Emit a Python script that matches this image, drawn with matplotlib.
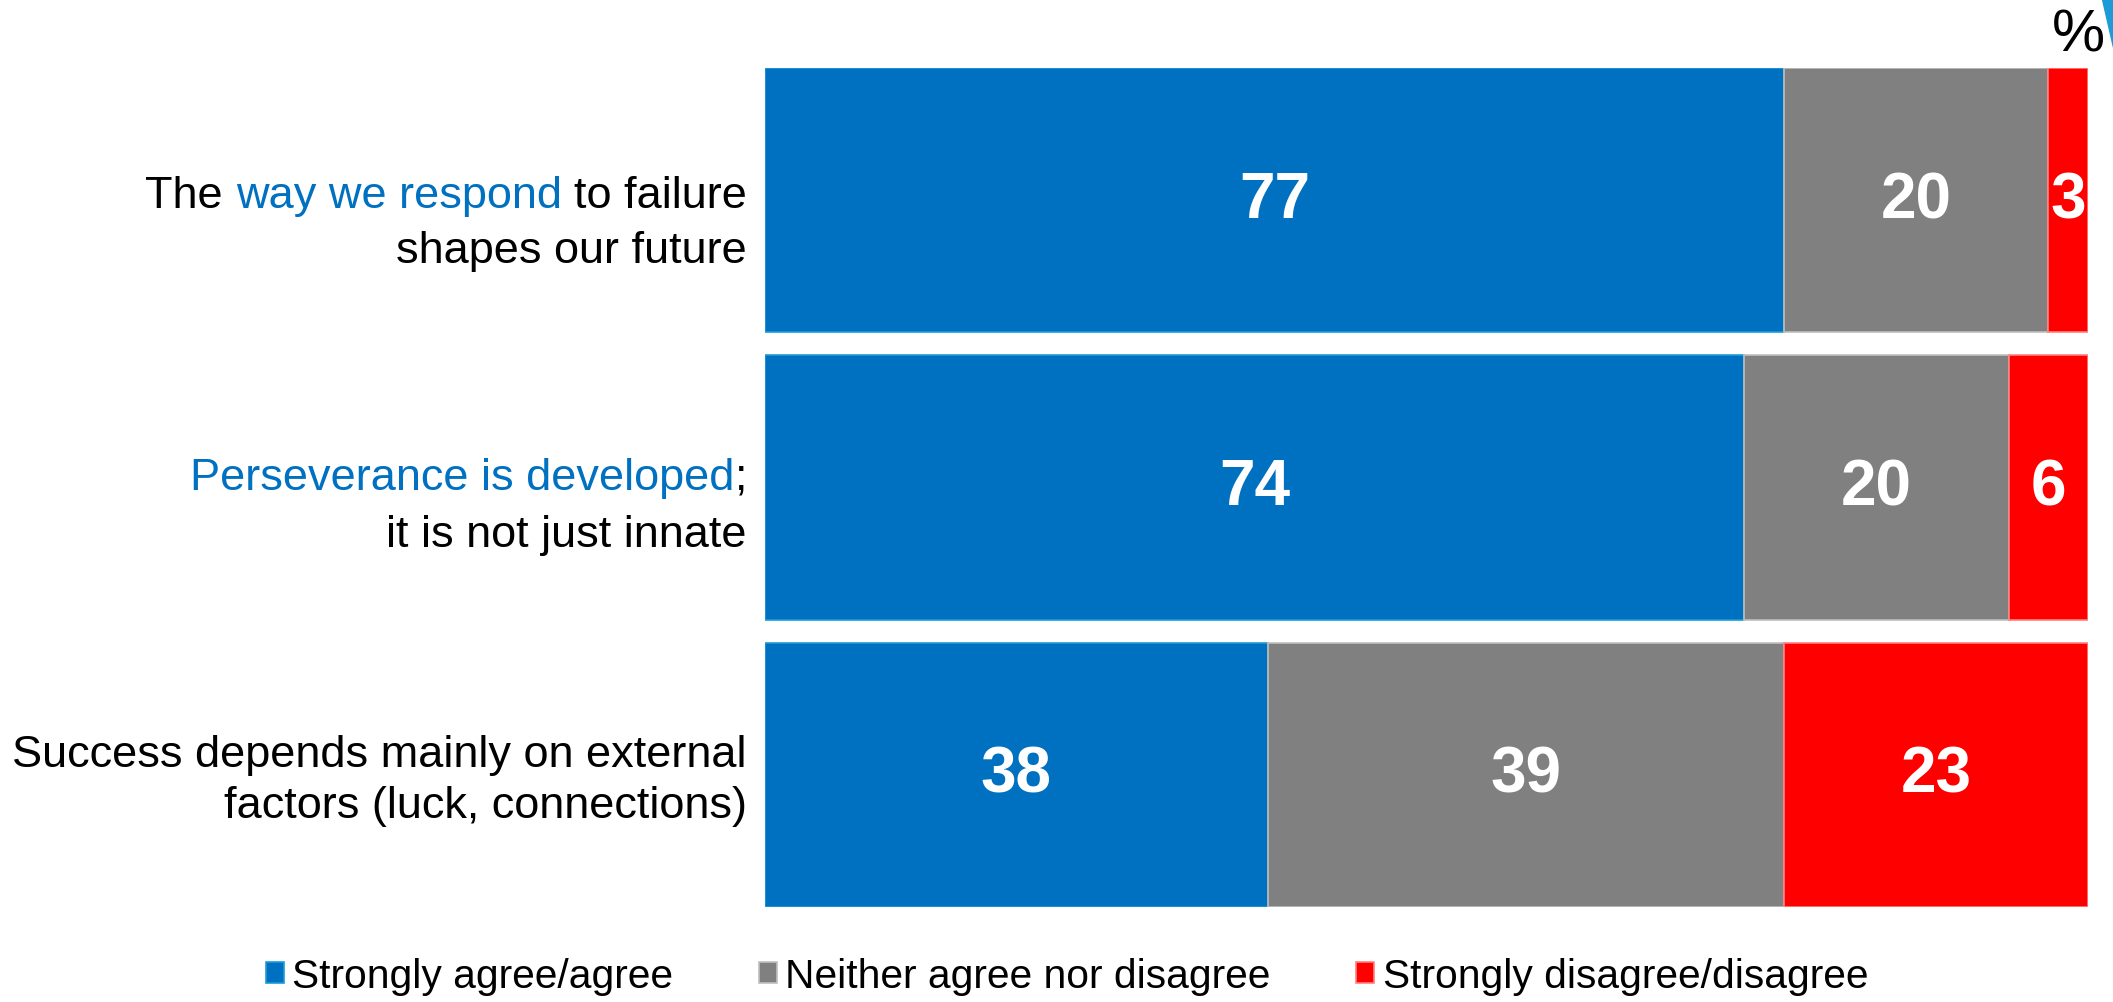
import matplotlib
matplotlib.use("Agg")
import matplotlib.pyplot as plt
from matplotlib.transforms import IdentityTransform
from matplotlib.patches import Polygon

# data
statements = [
    ["The way we respond to failure", "shapes our future"],
    ["Perseverance is developed;", "it is not just innate"],
    ["Success depends mainly on external", "factors (luck, connections)"],
]
highlights = ["way we respond", "Perseverance is developed", None]
series_names = ["Strongly agree/agree", "Neither agree nor disagree", "Strongly disagree/disagree"]
agree = [77, 74, 38]
neutral = [20, 20, 39]
disagree = [3, 6, 23]

W, H = 2113, 1003
BLUE = "#0070C0"
HIGHLIGHT = "#0070C0"
colors = [BLUE, "#808080", "#FF0000"]
edges = ["#1E9BD7", "#BFBFBF", "#FF8080"]
FONT = "Liberation Sans"

fig = plt.figure(figsize=(W / 100, H / 100), dpi=100)
ax = fig.add_axes([765 / W, (H - 908) / H, 1323 / W, (908 - 69) / H])

y = list(range(len(agree)))
left = [0] * len(agree)
for vals, name, c, ec in zip([agree, neutral, disagree], series_names, colors, edges):
    ax.barh(y, vals, left=left, height=0.92, color=c, edgecolor=ec, linewidth=1.2, label=name)
    for yi, v, l in zip(y, vals, left):
        ax.text(l + v / 2, yi, str(v), ha="center", va="center", color="white",
                fontsize=46, fontweight="bold", family=FONT)
    left = [a + b for a, b in zip(left, vals)]

ax.set_xlim(0, 100)
ax.set_ylim(2.46, -0.46)
ax.axis("off")

# multi-coloured statement labels, right aligned next to the bars
r = fig.canvas.get_renderer()
fs = 32.5


def text_w(s):
    t = fig.text(0, 0, s, fontsize=fs, family=FONT, transform=IdentityTransform())
    w = t.get_window_extent(renderer=r).width
    t.remove()
    return w


def draw_line(line, hl, x_right, y_base):
    pieces = [(line, "black")]
    if hl and hl in line:
        i = line.index(hl)
        pieces = [(line[:i], "black"), (hl, HIGHLIGHT), (line[i + len(hl):], "black")]
        pieces = [p for p in pieces if p[0]]
    x0 = x_right - text_w(line)
    pos = 0
    for s, c in pieces:
        lead = len(s) - len(s.lstrip())
        prefix = line[:pos + lead]
        off = text_w(prefix + "x") - text_w("x") if prefix else 0
        fig.text(x0 + off, y_base, s.strip(), fontsize=fs, family=FONT, color=c,
                 ha="left", va="baseline", transform=IdentityTransform())
        pos += len(s)


baselines = [(208, 263), (490, 547), (767, 818)]
for lines, hl, bl in zip(statements, highlights, baselines):
    for line, yb in zip(lines, bl):
        draw_line(line, hl, 747, H - yb)

fig.legend(loc="center", bbox_to_anchor=(1067 / W, 1 - 977 / H), ncol=3, frameon=False,
           prop={"family": FONT, "size": 29.3}, handlelength=0.45, handleheight=0.45,
           handletextpad=0.2, columnspacing=2.1)

fig.text(2105 / W, 1 - 8 / H, "%", ha="right", va="top", fontsize=43, family=FONT)
fig.patches.append(Polygon([[2102, H], [W, H], [W, H - 48]], closed=True,
                           color="#1E9BD7", transform=IdentityTransform()))

fig.savefig("out.png", dpi=100)
